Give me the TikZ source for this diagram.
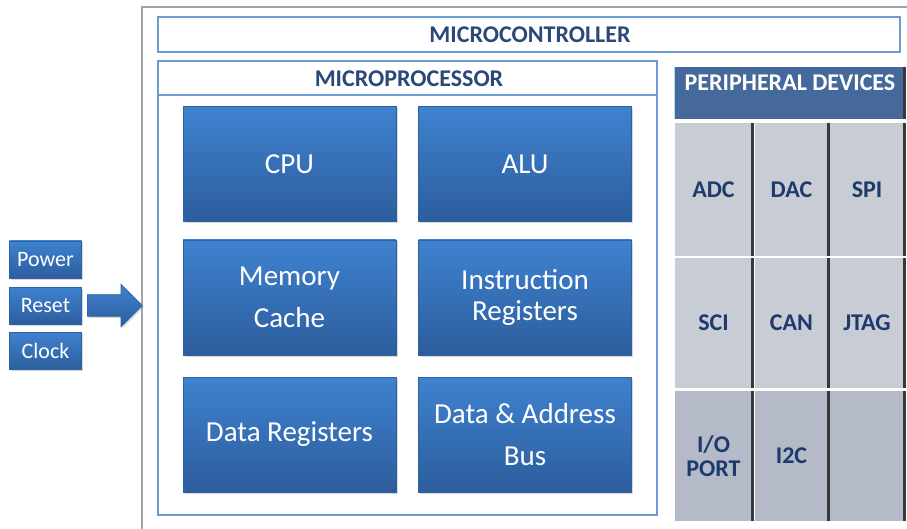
\documentclass[tikz,border=0pt]{standalone}
\usepackage{fontspec}
\setmainfont{Carlito}
\usetikzlibrary{shapes.arrows,shadows}
\definecolor{boxtop}{HTML}{3F82CF}
\definecolor{boxbottom}{HTML}{2C5D9D}
\definecolor{boxedge}{HTML}{2F62A3}
\definecolor{frameblue}{HTML}{6C9AD2}
\definecolor{framegray}{HTML}{9BA3AD}
\definecolor{titleblue}{HTML}{2B4877}
\definecolor{periphhead}{HTML}{46699C}
\definecolor{celllight}{HTML}{C8CCD5}
\definecolor{celldark}{HTML}{B4BAC7}
\definecolor{cellink}{HTML}{1E3A6C}
\tikzset{
	bluebox/.style={draw=boxedge, line width=0.6pt, top color=boxtop, bottom color=boxbottom,
		text=white, align=center, inner sep=0pt,
		drop shadow={shadow xshift=1.5pt, shadow yshift=-1.5pt, opacity=0.3}},
	mainbox/.style={bluebox, minimum width=213pt, minimum height=115pt,
		font=\fontsize{29}{31}\selectfont},
	inbox/.style={bluebox, minimum width=72pt, minimum height=37pt,
		font=\fontsize{22}{24}\selectfont},
	inarrow/.style={single arrow, draw=boxedge, line width=0.6pt, top color=boxtop, bottom color=boxbottom,
		minimum height=55pt, inner xsep=0pt, inner ysep=10.5pt, single arrow head extend=10.5pt,
		drop shadow={shadow xshift=1.5pt, shadow yshift=-1.5pt, opacity=0.3}},
	frame/.style={draw=frameblue, line width=1.6pt},
	titletext/.style={text=titleblue, font=\bfseries\fontsize{24}{26}\selectfont},
	cell/.style={fill=celllight, minimum height=130pt, text=cellink, align=center, inner sep=0pt,
		font=\bfseries\fontsize{24}{24}\selectfont},
	lowcell/.style={cell, fill=celldark},
	cellshade/.style={draw=black!78, line width=2.8pt}
}

\begin{document}
\begin{tikzpicture}[x=1pt, y=-1pt]
			%%%%% START %%%%%
			
			\useasboundingbox (0, 0) rectangle (907, 529);
			\fill[white] (0, 0) rectangle (907, 529);
			\clip (0, 0) rectangle (907, 529);
			
			% microcontroller frame
			\draw[draw=framegray, line width=1.6pt] (142, 7) rectangle (940, 560);
			\node[frame, minimum width=742pt, minimum height=35pt] (mcu) at (529, 34.5) {};
			\node[titletext] (mcutitle) at (530, 35) {MICROCONTROLLER};
			
			% microprocessor
			\node[frame, minimum width=499pt, minimum height=454pt] (mpu) at (407.5, 288) {};
			\node[titletext] (mputitle) at (409, 79) {MICROPROCESSOR};
			\draw[frame] (158, 95) -- (657, 95);
			
			\node[mainbox] (cpu) at (289.5, 164) {CPU};
			\node[mainbox] (alu) at (525, 164) {ALU};
			\node[mainbox] (cache) at (289.5, 297.5) {Memory\\[11pt]Cache};
			\node[mainbox] (ireg) at (525, 297.5) {Instruction\\Registers};
			\node[mainbox] (dreg) at (289.5, 434.5) {Data Registers};
			\node[mainbox] (bus) at (525, 434.5) {Data \& Address\\[11pt]Bus};
			
			% peripheral devices
			\node[fill=periphhead, minimum width=229pt, minimum height=52pt] (periph) at (789.5, 93) {};
			\node[text=white, font=\bfseries\fontsize{24}{26}\selectfont] (periphtitle) at (790, 83) {PERIPHERAL DEVICES};
			\draw[cellshade] (periph.north east) -- (periph.south east);
			\draw[draw=cyan!35, line width=1.2pt] (periph.north west) -- (periph.south west);
			
			\node[cell, minimum width=77pt, minimum height=133pt] (adc) at (713.5, 189.5) {ADC};
			\node[cell, minimum width=73pt, minimum height=133pt] (dac) at (791.5, 189.5) {DAC};
			\node[cell, minimum width=74pt, minimum height=133pt] (spi) at (867, 189.5) {SPI};
			
			\node[cell, minimum width=77pt] (sci) at (713.5, 323) {SCI};
			\node[cell, minimum width=73pt] (can) at (791.5, 323) {CAN};
			\node[cell, minimum width=74pt] (jtag) at (867, 323) {JTAG};
			
			\node[lowcell, minimum width=77pt] (ioport) at (713.5, 456) {I/O\\PORT};
			\node[lowcell, minimum width=73pt] (iic) at (791.5, 456) {I2C};
			\node[lowcell, minimum width=74pt] (spare) at (867, 456) {};
			
			\foreach \c in {adc, dac, spi, sci, can, jtag, ioport, iic, spare}
				\draw[cellshade] (\c.north east) -- (\c.south east);
			
			% inputs
			\node[inbox] (power) at (45.5, 259.5) {Power};
			\node[inbox] (reset) at (45.5, 305.5) {Reset};
			\node[inbox] (clock) at (45.5, 351) {Clock};
			
			\node[inarrow, anchor=tail] (feed) at (87, 305.5) {};
			
			%%%%% END %%%%%
\end{tikzpicture}
\end{document}
